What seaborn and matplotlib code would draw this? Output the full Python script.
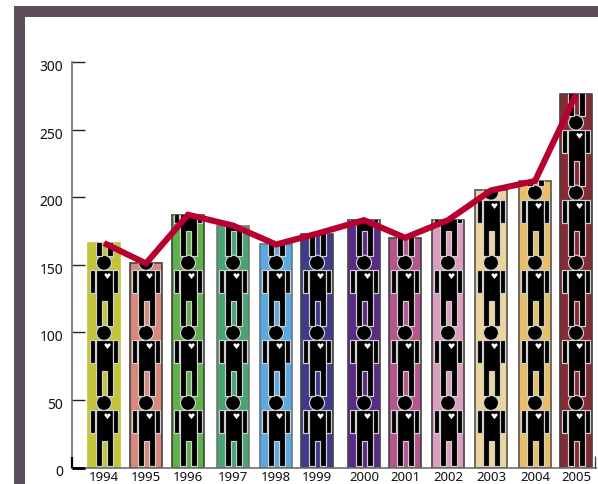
import matplotlib
matplotlib.use("Agg")
import matplotlib.pyplot as plt
import matplotlib.transforms as mtrans
import seaborn as sns
import pandas as pd
from matplotlib.patches import Rectangle, Ellipse, Polygon

years = ["1994", "1995", "1996", "1997", "1998", "1999", "2000", "2001", "2002", "2003", "2004", "2005"]
values = [166, 151, 187, 179, 165, 173, 183, 170, 183, 205, 212, 276]
slots = [32, 74, 116, 161, 204, 245, 292, 333, 376, 419, 463, 504]
colors = ["#c4c43a", "#d9877a", "#5fb04a", "#4aa471", "#5aa9df", "#3f3a8c",
          "#5b2a86", "#b5558f", "#dc9ec0", "#ecd59b", "#e8bf66", "#872b33"]
edges = ["#c4c43a", "#444444", "#444444", "#777777", "#667788", "#444444",
         "#444444", "#444444", "#444444", "#555555", "#555555", "#444444"]

W, H = 598, 484
sns.set_theme(style="white", rc={"font.family": ["Noto Sans", "DejaVu Sans"]})
fig = plt.figure(figsize=(W / 100, H / 100), dpi=100, facecolor="white")

frame = "#5c4f5a"
fig.add_artist(Rectangle((13.5 / W, 1 - 17 / H), (W - 13.5) / W, 10.5 / H, transform=fig.transFigure, fc=frame, ec="none"))
fig.add_artist(Rectangle((13.5 / W, 0), 11 / W, 1 - 6.5 / H, transform=fig.transFigure, fc=frame, ec="none"))

ax = fig.add_axes([72 / W, 1 - 467.5 / H, 524 / W, 405.5 / H])
ax.patch.set_alpha(0)
df = pd.DataFrame({"slot": slots, "value": values, "year": years})
sns.barplot(data=df, x="slot", y="value", hue="year", palette=colors, native_scale=True,
            dodge=False, width=32 / 41, saturation=1, legend=False, ax=ax, zorder=1)
ax.set_xlim(0, 524)
ax.set_ylim(0, 300)

k = 300 / 405  # value units per pixel
period = 70 * k
bars = sorted([p for p in ax.patches if p.get_height() > 0], key=lambda p: p.get_x())
person_ec = "#d0d0d0"
lw = 0.85
for bar, val, ec in zip(bars, values, edges):
    bar.set_edgecolor(ec)
    bar.set_linewidth(1.2)
    cx = bar.get_x() + bar.get_width() / 2
    n = int(val // period) + 1
    for i in range(n):
        b = 1.5 * k + i * period
        parts = [
            Polygon([(cx - 8.5, b + 56 * k), (cx + 8.5, b + 56 * k), (cx + 8.5, b),
                     (cx + 2.5, b), (cx + 2.5, b + 25 * k), (cx - 2.5, b + 25 * k),
                     (cx - 2.5, b), (cx - 8.5, b)], closed=True),
            Polygon([(cx - 14, b + 56 * k), (cx - 9.3, b + 56 * k), (cx - 9.3, b + 33 * k), (cx - 14, b + 33 * k)], closed=True),
            Polygon([(cx + 14, b + 56 * k), (cx + 9.3, b + 56 * k), (cx + 9.3, b + 33 * k), (cx + 14, b + 33 * k)], closed=True),
        ]
        for part in parts:
            part.set(fc="black", ec=person_ec, lw=lw, zorder=2)
            ax.add_patch(part)
            part.set_clip_path(bar)
        head = Ellipse((cx, b + 63 * k), 15, 15 * k, fc="black", ec=person_ec, lw=lw, zorder=2)
        ax.add_patch(head)
        head.set_clip_path(bar)
        hx, hy = cx + 3.5, b + 50 * k
        heart = Polygon([(hx - 3.3, hy + 1 * k), (hx - 1.7, hy + 2.8 * k), (hx, hy + 1.4 * k),
                         (hx + 1.7, hy + 2.8 * k), (hx + 3.3, hy + 1 * k), (hx, hy - 3.2 * k)],
                        closed=True, fc="white", ec="none", zorder=3)
        ax.add_patch(heart)
        heart.set_clip_path(bar)

sns.lineplot(x=slots, y=values, color="#b80030", lw=4.4, sort=False, ax=ax, zorder=5,
             solid_capstyle="butt", solid_joinstyle="miter", errorbar=None)

for s in ["top", "right"]:
    ax.spines[s].set_visible(False)
ax.spines["left"].set(color="#6e6e6e", lw=1.2)
ax.spines["bottom"].set(color="#6e6e6e", lw=1.2)
ax.set_xlabel("")
ax.set_ylabel("")
ax.set_yticks([0, 50, 100, 150, 200, 250, 300])
ax.tick_params(axis="y", direction="in", length=9.5, width=1, color="#222222", pad=6.5, labelsize=10, labelcolor="#111111", left=True)
ax.set_xticks(slots)
ax.set_xticklabels(years)
ax.tick_params(axis="x", length=0, pad=2.5, labelsize=9.5, labelcolor="#111111")
shift = mtrans.ScaledTranslation(0, -3.5 / 100, fig.dpi_scale_trans)
for lab in ax.get_yticklabels():
    lab.set_transform(lab.get_transform() + shift)
ax.plot([0, 13], [0, 0], color="black", lw=2, clip_on=False, zorder=6, solid_capstyle="butt")
ax.plot([0, 0], [0, 10 * k], color="black", lw=1.6, clip_on=False, zorder=6, solid_capstyle="butt")
ax.plot([523, 523], [0, 11 * k], color="#444444", lw=1, clip_on=False, zorder=6, solid_capstyle="butt")

fig.savefig("out.png", dpi=100, facecolor="white")
